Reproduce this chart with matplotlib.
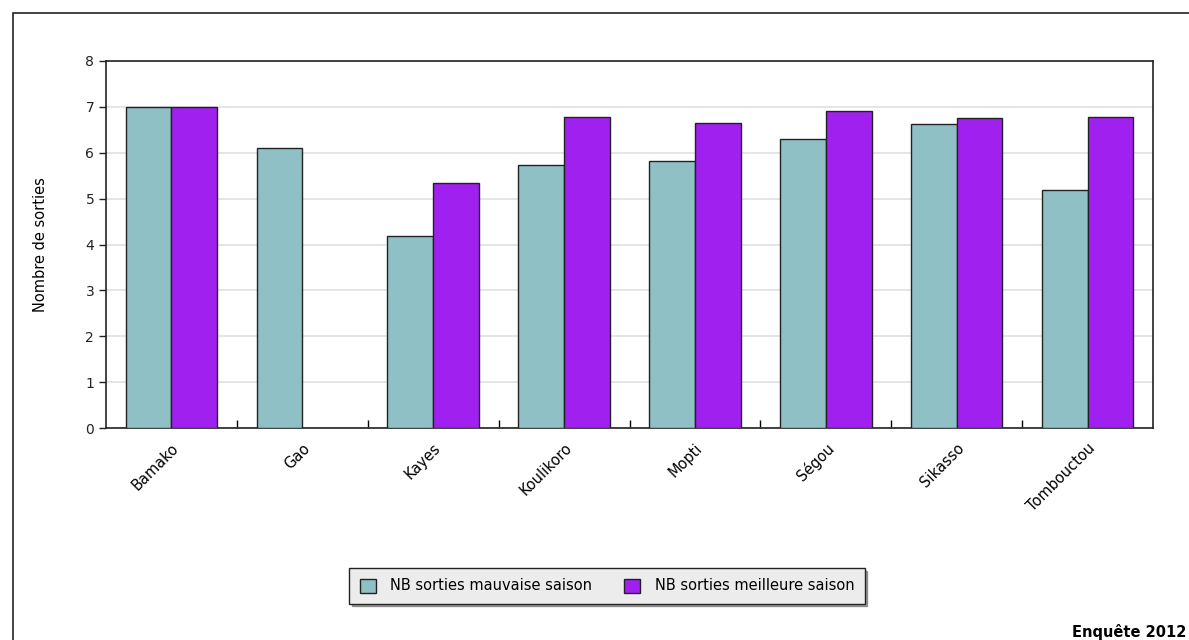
import numpy as np
import matplotlib.pyplot as plt
from matplotlib.patches import Rectangle

# data
regions = ["Bamako", "Gao", "Kayes", "Koulikoro", "Mopti", "Ségou", "Sikasso", "Tombouctou"]
mauvaise = [7.0, 6.1, 4.18, 5.74, 5.81, 6.30, 6.62, 5.19]
meilleure = [7.0, np.nan, 5.33, 6.79, 6.65, 6.90, 6.75, 6.79]

plt.rcParams['font.family'] = ['DejaVu Sans']

fig = plt.figure(figsize=(11.89, 6.4), dpi=100)
ax = fig.add_axes([106/1189, 1 - 428/640, (1153 - 106)/1189, (428 - 61)/640])

x = np.arange(len(regions)) + 0.5
w = 0.35
ax.bar(x - w/2, mauvaise, w, color='#8fc0c6', edgecolor='#222222', linewidth=1,
       label='NB sorties mauvaise saison', zorder=3)
ax.bar(x + w/2, meilleure, w, color='#a020f0', edgecolor='#222222', linewidth=1,
       label='NB sorties meilleure saison', zorder=3)

ax.set_xlim(0, len(regions))
ax.set_ylim(0, 8)
ax.set_yticks(range(9))
ax.yaxis.grid(True, color='#e0e0e0', linewidth=1.2, zorder=0)
ax.tick_params(axis='y', labelsize=10, length=5, width=1, colors='#222222')

# ticks between categories (pointing inward), labels at centres
ax.set_xticks(np.arange(1, len(regions)))
ax.set_xticklabels([])
ax.tick_params(axis='x', which='major', direction='in', length=6, width=1)
ax.set_xticks(x, minor=True)
ax.set_xticklabels(regions, minor=True, rotation=45, ha='right', rotation_mode='anchor', fontsize=10.5)
ax.tick_params(axis='x', which='minor', length=0, pad=9)

for s in ax.spines.values():
    s.set_linewidth(1.2)
    s.set_color('#222222')

ax.set_ylabel("Nombre de sorties", fontsize=10.5)
ax.yaxis.set_label_coords(-(106 - 48)/1047, 0.5)

leg = fig.legend(loc='center', bbox_to_anchor=(607/1189, 1 - 586/640), ncol=2,
                 fontsize=10.5, frameon=True, fancybox=False, shadow=True,
                 facecolor='#ececec', edgecolor='#222222', handlelength=1.1,
                 handleheight=1.1, handletextpad=1.0, columnspacing=2.2, borderpad=0.7)
leg.get_frame().set_linewidth(1)

fig.text(1186/1189, 1 - 637/640, "Enquête 2012", fontsize=10.5, fontweight='bold',
         va='baseline', ha='right')

# outer frame (cut off at right and bottom)
fig.patches.append(Rectangle((13/1189, -0.1), 1.2, 1 - 13/640 + 0.1, transform=fig.transFigure,
                             fill=False, edgecolor='#222222', linewidth=1.2))

fig.savefig("out.png", dpi=100)
